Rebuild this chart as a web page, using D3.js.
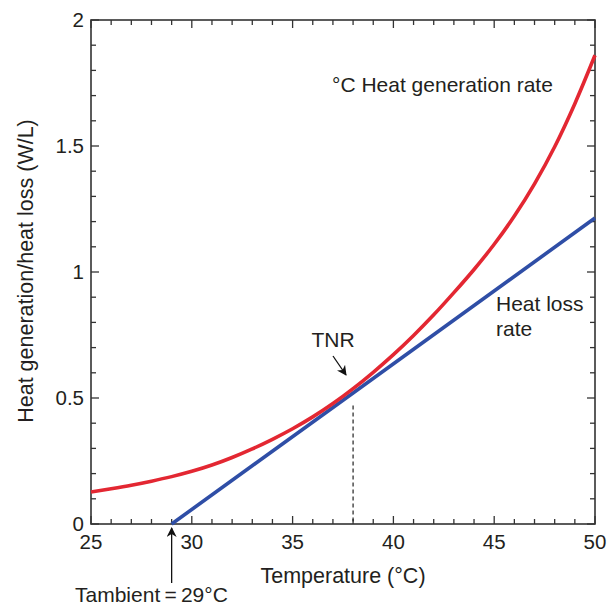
<!DOCTYPE html>
<html><head><meta charset="utf-8">
<script src="https://cdn.jsdelivr.net/npm/d3@7"></script>
<style>body{margin:0;background:#fff}svg{display:block}text{font-family:"Liberation Sans",Arial,sans-serif;fill:#231f20}</style>
</head><body><svg id="c" width="615" height="605"></svg>
<script>
const genTemps = [25,26,27,28,29,30,31,32,33,34,35,36,37,38,39,40,41,42,43,44,45,46,47,48,49,50];
const genRate  = [0.127,0.140,0.154,0.170,0.188,0.209,0.234,0.264,0.298,0.336,0.378,0.425,0.478,0.537,0.602,0.672,0.748,0.830,0.918,1.010,1.110,1.222,1.350,1.497,1.668,1.860];
const lossTemps = [29,38,50];
const lossRate  = [0,0.52,1.214];
const xTicks = [25,30,35,40,45,50];
const yTicks = [0,0.5,1,1.5,2];
const yTickLabels = ["0","0.5","1","1.5","2"];
const tnrTemp = 38, ambientTemp = 29;

const svg = d3.select("#c");
const L=91,R=595,T=20,B=524;
const x = d3.scaleLinear().domain([25,50]).range([L,R]);
const y = d3.scaleLinear().domain([0,2]).range([B,T]);
const axCol="#333";

const minorX = d3.range(25,50.01,1), minorY = d3.range(0,2.001,0.1);
const g = svg.append("g");
minorX.forEach(v=>{
  const len = xTicks.some(t=>Math.abs(t-v)<1e-6)?8:5;
  g.append("line").attr("x1",x(v)).attr("x2",x(v)).attr("y1",B).attr("y2",B-len).attr("stroke",axCol).attr("stroke-width",1.3);
  g.append("line").attr("x1",x(v)).attr("x2",x(v)).attr("y1",T).attr("y2",T+len).attr("stroke",axCol).attr("stroke-width",1.3);
});
minorY.forEach(v=>{
  const len = yTicks.some(t=>Math.abs(t-v)<1e-6)?8:5;
  g.append("line").attr("y1",y(v)).attr("y2",y(v)).attr("x1",L).attr("x2",L+len).attr("stroke",axCol).attr("stroke-width",1.3);
  g.append("line").attr("y1",y(v)).attr("y2",y(v)).attr("x1",R).attr("x2",R-len).attr("stroke",axCol).attr("stroke-width",1.3);
});
g.append("rect").attr("x",L).attr("y",T).attr("width",R-L).attr("height",B-T).attr("fill","none").attr("stroke",axCol).attr("stroke-width",1.6);

// tick labels
xTicks.forEach(v=>svg.append("text").attr("x",x(v)).attr("y",549).attr("text-anchor","middle").attr("font-size",20.5).text(v));
yTicks.forEach((v,i)=>svg.append("text").attr("x",84).attr("y",y(v)+6.5).attr("text-anchor","end").attr("font-size",20.5).text(yTickLabels[i]));

// titles
svg.append("text").attr("x",343).attr("y",583).attr("text-anchor","middle").attr("font-size",21.5).text("Temperature (°C)");
svg.append("text").attr("transform","translate(33,271) rotate(-90)").attr("text-anchor","middle").attr("font-size",21.5).text("Heat generation/heat loss (W/L)");

// dashed line
svg.append("line").attr("x1",x(tnrTemp)).attr("x2",x(tnrTemp)).attr("y1",y(0.47)).attr("y2",B).attr("stroke","#222").attr("stroke-width",1.2).attr("stroke-dasharray","4,3");

const line = d3.line().x(d=>x(d[0])).y(d=>y(d[1])).curve(d3.curveMonotoneX);
svg.append("path").datum(lossTemps.map((t,i)=>[t,lossRate[i]])).attr("d",line).attr("fill","none").attr("stroke","#2f4ea6").attr("stroke-width",3.6);
svg.append("path").datum(genTemps.map((t,i)=>[t,genRate[i]])).attr("d",line).attr("fill","none").attr("stroke","#e32732").attr("stroke-width",3.6);

// annotations
svg.append("text").attr("x",332).attr("y",92).attr("font-size",21).text("°C Heat generation rate");
svg.append("text").attr("x",496).attr("y",311).attr("font-size",21).text("Heat loss");
svg.append("text").attr("x",496).attr("y",336).attr("font-size",21).text("rate");
svg.append("text").attr("x",333).attr("y",347).attr("text-anchor","middle").attr("font-size",21).text("TNR");

const defs = svg.append("defs");
defs.append("marker").attr("id","ah").attr("viewBox","0 0 10 10").attr("refX",9).attr("refY",5)
  .attr("markerWidth",10).attr("markerHeight",10).attr("markerUnits","userSpaceOnUse").attr("orient","auto")
  .append("path").attr("d","M0,0 L10,5 L0,10 L3,5 Z").attr("fill","#111");
svg.append("line").attr("x1",333).attr("y1",356).attr("x2",346).attr("y2",375).attr("stroke","#111").attr("stroke-width",1.3).attr("marker-end","url(#ah)");
svg.append("line").attr("x1",x(ambientTemp)).attr("y1",583).attr("x2",x(ambientTemp)).attr("y2",528).attr("stroke","#111").attr("stroke-width",1.3).attr("marker-end","url(#ah)");
svg.append("text").attr("x",75).attr("y",602).attr("font-size",21).text("Tambient\u2009=\u200929°C");
</script></body></html>
